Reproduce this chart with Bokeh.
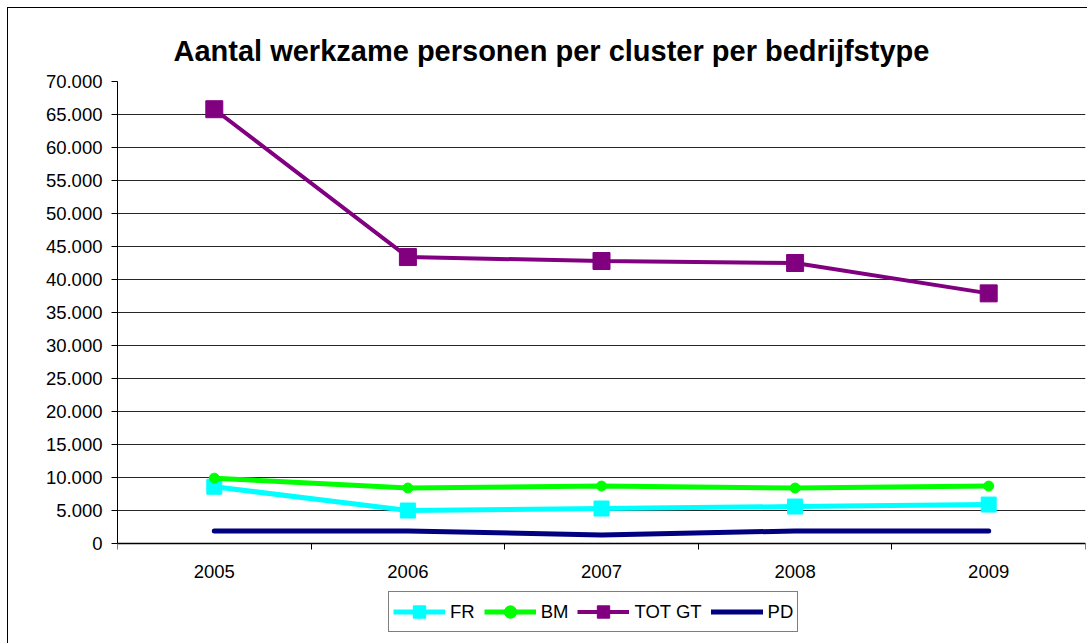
from bokeh.plotting import figure
from bokeh.models import (FixedTicker, Range1d, Legend, LegendItem, ColumnDataSource)
from bokeh.embed import file_html
from bokeh.resources import INLINE

title = "Aantal werkzame personen per cluster per bedrijfstype"
years = [2005, 2006, 2007, 2008, 2009]
fr = [8600, 5000, 5300, 5600, 5900]
bm = [9900, 8400, 8700, 8400, 8700]
tot_gt = [65800, 43400, 42800, 42500, 37900]
pd_vals = [1900, 1900, 1300, 1900, 1900]
y_ticks = list(range(0, 70001, 5000))
y_tick_labels = ["0", "5.000", "10.000", "15.000", "20.000", "25.000", "30.000",
                 "35.000", "40.000", "45.000", "50.000", "55.000", "60.000",
                 "65.000", "70.000"]

FONT = "Liberation Sans"

# layout (pixels): plot area 0..70000 spans 462 px; the frame extends 97 px below 0
# to make room for the axis labels and the legend
Y_MAX = 70000
PX_AXIS = 462
PX_BELOW = 97
y_start = -PX_BELOW * Y_MAX / PX_AXIS

p = figure(width=1080, height=636, output_backend="svg", toolbar_location=None,
           x_range=Range1d(years[0] - 0.5, years[-1] + 0.5),
           y_range=Range1d(y_start, Y_MAX),
           min_border_left=109, min_border_right=3, min_border_top=73,
           min_border_bottom=4)
p.margin = (8, 0, 0, 8)
p.styles = {"box-shadow": "-1px -1px 0 0 black"}

p.title.text = title
p.title.align = "left"
p.title.offset = 56
p.title.text_font = FONT
p.title.text_font_size = "29px"
p.title.text_font_style = "bold"
p.title.text_color = "black"
p.title.standoff = 30

p.outline_line_color = None
p.background_fill_color = "white"
p.border_fill_color = "white"

p.xgrid.grid_line_color = None
p.ygrid.grid_line_color = "black"
p.ygrid.grid_line_alpha = 0.85
p.ygrid.bounds = (0, Y_MAX)

p.yaxis.ticker = FixedTicker(ticks=y_ticks)
p.yaxis.bounds = (0, Y_MAX)
p.yaxis.major_label_overrides = {t: l for t, l in zip(y_ticks, y_tick_labels)}
p.yaxis.minor_tick_line_color = None
p.yaxis.major_tick_out = 6
p.yaxis.major_tick_in = 0
p.yaxis.axis_line_color = "black"
p.yaxis.major_tick_line_color = "black"
p.yaxis.major_label_text_font = FONT
p.yaxis.major_label_text_font_size = "18.5px"
p.yaxis.major_label_text_color = "black"
p.yaxis.major_label_standoff = 9

p.xaxis.fixed_location = 0
p.xaxis.ticker = FixedTicker(ticks=years, minor_ticks=[y - 0.5 for y in years] + [years[-1] + 0.5])
p.xaxis.major_label_overrides = {y: str(y) for y in years}
p.xaxis.major_tick_line_color = None
p.xaxis.minor_tick_out = 6
p.xaxis.minor_tick_in = 0
p.xaxis.minor_tick_line_color = "black"
p.xaxis.axis_line_color = "black"
p.xaxis.axis_line_width = 1.5
p.xaxis.major_label_text_font = FONT
p.xaxis.major_label_text_font_size = "18.5px"
p.xaxis.major_label_text_color = "black"
p.xaxis.major_label_standoff = 15

src = ColumnDataSource(dict(x=years, fr=fr, bm=bm, tot=tot_gt, pd=pd_vals))

l_pd = p.line("x", "pd", source=src, line_color="#000080", line_width=5, line_cap="round")
l_fr = p.line("x", "fr", source=src, line_color="#00FFFF", line_width=5)
m_fr = p.scatter("x", "fr", source=src, marker="square", size=15, fill_color="#00FFFF", line_color="#00FFFF")
l_bm = p.line("x", "bm", source=src, line_color="#00FF00", line_width=5)
m_bm = p.scatter("x", "bm", source=src, marker="circle", size=10, fill_color="#00FF00", line_color="#00FF00")
l_tot = p.line("x", "tot", source=src, line_color="#800080", line_width=4)
m_tot = p.scatter("x", "tot", source=src, marker="square", size=17, fill_color="#800080", line_color="#800080")

legend = Legend(items=[
    LegendItem(label="FR", renderers=[l_fr, m_fr]),
    LegendItem(label="BM", renderers=[l_bm, m_bm]),
    LegendItem(label="TOT GT", renderers=[l_tot, m_tot]),
    LegendItem(label="PD", renderers=[l_pd]),
], location=(271, 8), orientation="horizontal")
legend.border_line_color = "black"
legend.border_line_width = 1
legend.background_fill_color = "white"
legend.padding = 4
legend.spacing = 9
legend.margin = 0
legend.glyph_width = 52
legend.glyph_height = 31
legend.label_standoff = 5
legend.label_text_font = FONT
legend.label_text_font_size = "18.5px"
legend.label_text_color = "black"
p.add_layout(legend, "center")

open("out.html", "w").write(file_html(p, INLINE))
